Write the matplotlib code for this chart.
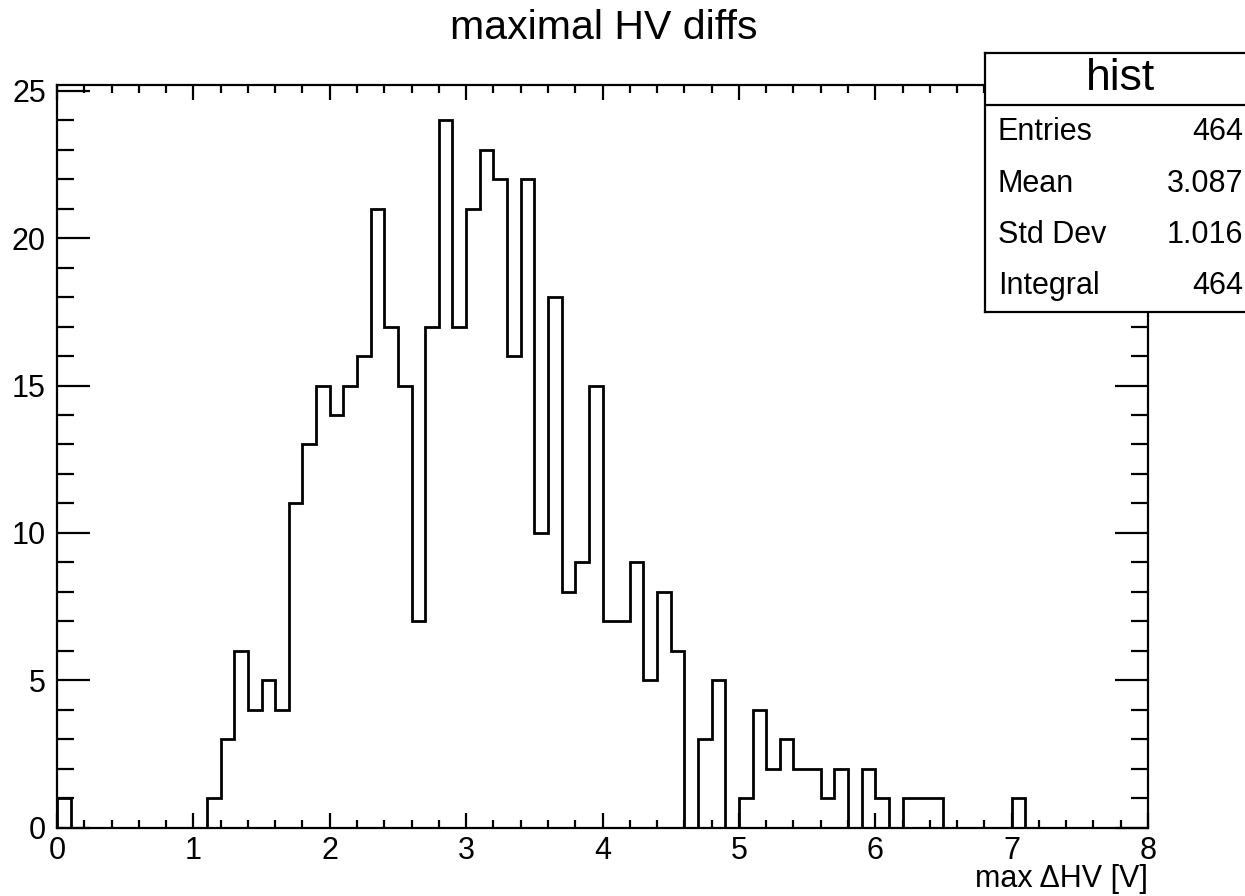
import numpy as np
import matplotlib
matplotlib.use("Agg")
import matplotlib.pyplot as plt
from matplotlib.ticker import MultipleLocator

plt.rcParams['font.family'] = ['Liberation Sans', 'DejaVu Sans']

# ---- data ----
bin_lo = 0.0
bin_hi = 8.0
counts = [1, 0, 0, 0, 0, 0, 0, 0, 0, 0,
          0, 1, 3, 6, 4, 5, 4, 11, 13, 15,
          14, 15, 16, 21, 17, 15, 7, 17, 24, 17,
          21, 23, 22, 16, 22, 10, 18, 8, 9, 15,
          7, 7, 9, 5, 8, 6, 0, 3, 5, 0,
          1, 4, 2, 3, 2, 2, 1, 2, 0, 2,
          1, 0, 1, 1, 1, 0, 0, 0, 0, 0,
          1, 0, 0, 0, 0, 0, 0, 0, 0, 0]
title = "maximal HV diffs"
xlabel = "max \u0394HV [V]"
stat_name = "hist"
stat_labels = ["Entries", "Mean", "Std Dev", "Integral"]
stat_values = ["464", "3.087", "1.016", "464"]

edges = np.linspace(bin_lo, bin_hi, len(counts) + 1)

W, H = 1245, 896
fig = plt.figure(figsize=(W / 100, H / 100), dpi=100)
ax = fig.add_axes([57 / W, 1 - 827.5 / H, (1148 - 57) / W, (827.5 - 85) / H])

ax.stairs(counts, edges, color='black', linewidth=2.0, baseline=0)

ax.set_xlim(0, 8)
ax.set_ylim(0, 1.05 * max(counts))

for s in ax.spines.values():
    s.set_linewidth(1.6)

ax.xaxis.set_major_locator(MultipleLocator(1))
ax.xaxis.set_minor_locator(MultipleLocator(0.2))
ax.yaxis.set_major_locator(MultipleLocator(5))
ax.yaxis.set_minor_locator(MultipleLocator(1))

ax.tick_params(axis='both', which='both', direction='in', top=True, right=True,
               width=1.6, labelsize=22)
ax.tick_params(axis='x', which='major', length=11, pad=6)
ax.tick_params(axis='x', which='minor', length=5.5)
ax.tick_params(axis='y', which='major', length=24, pad=8)
ax.tick_params(axis='y', which='minor', length=12)

ax.set_xlabel(xlabel, loc='right', fontsize=22, labelpad=-1)
fig.text(604 / W, 1 - 28 / H, title, ha='center', va='center', fontsize=29.5)

# stats box
bx = fig.add_axes([985 / W, 1 - 312 / H, (W - 985) / W, (312 - 53) / H])
bx.set_xlim(0, 1)
bx.set_ylim(0, 1)
bx.set_xticks([])
bx.set_yticks([])
bx.set_facecolor('white')
for k, s in bx.spines.items():
    s.set_linewidth(1.6)
bx.spines['right'].set_visible(False)
sep = (312 - 105) / (312 - 53)
bx.axhline(sep, color='black', linewidth=1.6)
bx.text(0.52, (312 - 79) / (312 - 53), stat_name, ha='center', va='center', fontsize=32)
row_y = [132, 184, 235, 286]
for lab, val, yy in zip(stat_labels, stat_values, row_y):
    yf = (312 - yy) / (312 - 53)
    bx.text((998 - 985) / (W - 985), yf, lab, ha='left', va='center', fontsize=22)
    bx.text((1243 - 985) / (W - 985), yf, val, ha='right', va='center', fontsize=22)

fig.savefig("out.png", dpi=100)
